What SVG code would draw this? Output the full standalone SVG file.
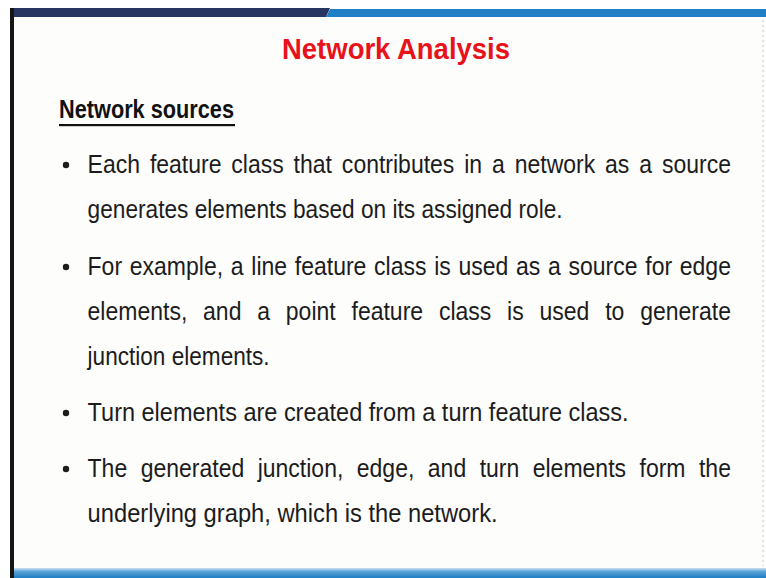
<svg xmlns="http://www.w3.org/2000/svg" width="766" height="578" viewBox="0 0 766 578">
<defs>
<linearGradient id="bot" x1="0" y1="0" x2="0" y2="1">
<stop offset="0" stop-color="#cfe3f3"/>
<stop offset="0.35" stop-color="#5aa3d8"/>
<stop offset="1" stop-color="#1f7cc1"/>
</linearGradient>
</defs>
<style>
.body{font-family:"Liberation Sans",Arial,sans-serif;font-size:25px;fill:#1c1c1c;}
.bul{fill:#1c1c1c;}
</style>
<rect x="0" y="0" width="766" height="578" fill="#ffffff"/>
<rect x="12" y="8" width="754" height="570" fill="#fdfdfc"/>
<g id="frame">
<polygon points="10,8 330,8 326,17 10,17" fill="#283462"/>
<polygon points="330,9 766,9 766,17 326,17" fill="#1f7fc5"/>
<rect x="10" y="568" width="756" height="10" fill="url(#bot)"/>
<rect x="10" y="8" width="4" height="570" fill="#151515"/>
<line x1="763" y1="20" x2="763" y2="566" stroke="#c8c8c8" stroke-width="1" stroke-dasharray="2 3"/>
</g>
<g id="title">
<text x="396" y="59" text-anchor="middle" font-family="Liberation Sans, Arial, sans-serif" font-weight="bold" font-size="29" fill="#e8121b" textLength="228" lengthAdjust="spacingAndGlyphs">Network Analysis</text>
</g>
<g id="heading">
<text x="59" y="118" font-family="Liberation Sans, Arial, sans-serif" font-weight="bold" font-size="26" fill="#111" textLength="175" lengthAdjust="spacingAndGlyphs">Network sources</text>
<rect x="59" y="124" width="176" height="2.2" fill="#111"/>
</g>
<g id="bullets">
<circle class="bul" cx="66" cy="165" r="3.2"/>
<circle class="bul" cx="66" cy="267" r="3.2"/>
<circle class="bul" cx="66" cy="413" r="3.2"/>
<circle class="bul" cx="66" cy="469" r="3.2"/>
</g>
<g id="text">
<text class="body" transform="scale(0.92,1)" x="95.2" y="173" word-spacing="3.79" textLength="699.3" lengthAdjust="spacing">Each feature class that contributes in a network as a source</text>
<text class="body" x="87.6" y="218" textLength="475" lengthAdjust="spacingAndGlyphs">generates elements based on its assigned role.</text>
<text class="body" transform="scale(0.92,1)" x="95.2" y="275" word-spacing="1.43" textLength="699.3" lengthAdjust="spacing">For example, a line feature class is used as a source for edge</text>
<text class="body" transform="scale(0.92,1)" x="95.2" y="320" word-spacing="10.24" textLength="699.3" lengthAdjust="spacing">elements, and a point feature class is used to generate</text>
<text class="body" x="87.6" y="365" textLength="182" lengthAdjust="spacingAndGlyphs">junction elements.</text>
<text class="body" x="87.6" y="421" textLength="541" lengthAdjust="spacingAndGlyphs">Turn elements are created from a turn feature class.</text>
<text class="body" transform="scale(0.92,1)" x="95.2" y="477" word-spacing="7.68" textLength="699.3" lengthAdjust="spacing">The generated junction, edge, and turn elements form the</text>
<text class="body" x="87.6" y="522" textLength="410" lengthAdjust="spacingAndGlyphs">underlying graph, which is the network.</text>
</g>
</svg>
